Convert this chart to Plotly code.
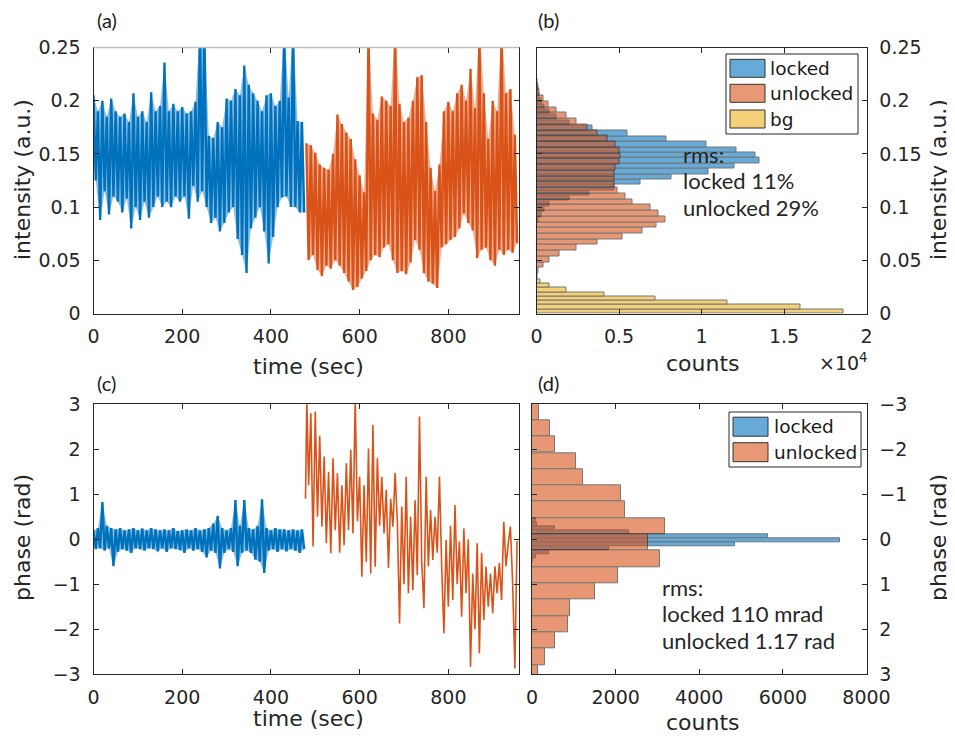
import plotly.graph_objects as go

# ---------------- data ----------------
# (a) intensity time traces (envelope samples, every 5 s,
#     alternating upper / lower excursions)
t_locked = list(range(0, 480, 5))
int_locked = [0.205, 0.125, 0.19, 0.088, 0.2, 0.115, 0.185, 0.093, 0.202, 0.11,
              0.19, 0.105, 0.185, 0.095, 0.188, 0.108, 0.18, 0.08, 0.207, 0.1,
              0.185, 0.088, 0.19, 0.105, 0.18, 0.09, 0.208, 0.1, 0.19, 0.11,
              0.195, 0.1, 0.236, 0.105, 0.19, 0.1, 0.197, 0.11, 0.19, 0.105,
              0.194, 0.11, 0.188, 0.089, 0.19, 0.12, 0.199, 0.105, 0.27, 0.115,
              0.27, 0.1, 0.167, 0.085, 0.165, 0.09, 0.18, 0.077, 0.175, 0.085,
              0.202, 0.095, 0.2, 0.1, 0.211, 0.07, 0.205, 0.055, 0.233, 0.038,
              0.215, 0.08, 0.207, 0.09, 0.2, 0.1, 0.19, 0.077, 0.205, 0.047,
              0.207, 0.072, 0.195, 0.1, 0.2, 0.109, 0.27, 0.11, 0.203, 0.1,
              0.27, 0.1, 0.181, 0.095, 0.18, 0.095]
t_unlocked = list(range(480, 960, 5))
int_unlocked = [0.16, 0.05, 0.158, 0.055, 0.151, 0.041, 0.14, 0.035, 0.137, 0.045,
                0.135, 0.042, 0.15, 0.05, 0.187, 0.045, 0.178, 0.038, 0.17, 0.03,
                0.164, 0.022, 0.145, 0.025, 0.13, 0.033, 0.114, 0.04, 0.27, 0.05,
                0.188, 0.055, 0.182, 0.053, 0.204, 0.062, 0.2, 0.065, 0.195, 0.05,
                0.27, 0.038, 0.197, 0.04, 0.18, 0.037, 0.184, 0.048, 0.2, 0.069,
                0.222, 0.06, 0.224, 0.038, 0.18, 0.03, 0.137, 0.028, 0.115, 0.024,
                0.14, 0.062, 0.19, 0.065, 0.199, 0.069, 0.19, 0.072, 0.207, 0.08,
                0.215, 0.094, 0.2, 0.085, 0.23, 0.078, 0.193, 0.052, 0.27, 0.06,
                0.207, 0.062, 0.164, 0.05, 0.2, 0.045, 0.19, 0.06, 0.27, 0.055,
                0.207, 0.06, 0.211, 0.057, 0.168, 0.066]

# (c) phase time traces
phase_locked = [0.2, -0.22, 0.25, -0.2, 0.83, -0.25, 0.3, -0.2, 0.25, -0.6,
                0.22, -0.28, 0.25, -0.22, 0.2, -0.25, 0.22, -0.3, 0.25, -0.2,
                0.2, -0.22, 0.24, -0.25, 0.2, -0.2, 0.25, -0.22, 0.22, -0.27,
                0.2, -0.2, 0.22, -0.28, 0.2, -0.2, 0.25, -0.22, 0.18, -0.24,
                0.2, -0.3, 0.22, -0.2, 0.2, -0.25, 0.25, -0.22, 0.2, -0.28,
                0.22, -0.4, 0.25, -0.25, 0.35, -0.3, 0.52, -0.65, 0.25, -0.3,
                0.2, -0.22, 0.25, -0.28, 0.87, -0.6, 0.3, -0.3, 0.87, -0.25,
                0.25, -0.3, 0.22, -0.45, 0.3, -0.5, 0.89, -0.75, 0.25, -0.25,
                0.2, -0.22, 0.25, -0.28, 0.22, -0.22, 0.22, -0.27, 0.2, -0.22,
                0.22, -0.25, 0.2, -0.3, 0.22, -0.22]
t_phase_unlocked = [478, 481, 485, 490, 495, 500, 505, 510, 515, 520, 525, 530, 535,
                    540, 545, 550, 555, 560, 565, 570, 575, 580, 585, 590, 595, 600,
                    605, 610, 615, 620, 625, 630, 635, 640, 645, 650, 655, 660, 665,
                    670, 675, 680, 685, 690, 695, 700, 705, 710, 715, 720, 725, 730,
                    735, 740, 745, 750, 755, 760, 765, 770, 775, 780, 785, 790, 795,
                    800, 805, 810, 815, 820, 825, 830, 835, 840, 845, 850, 855, 860,
                    865, 870, 875, 880, 885, 890, 895, 900, 905, 910, 915, 920, 925,
                    930, 935, 940, 945, 950, 955]
phase_unlocked = [0.9, 3.1, 1.2, 2.8, -0.16, 2.84, 0.5, 2.3, 0.28, 1.84, -0.09, 1.5, -0.31,
                  1.8, 0.2, 1.47, -0.3, 1.2, -0.13, 1.69, 0.2, 1.99, 0.13, 3.1, 0.4, 1.39,
                  -0.83, 1.2, -0.5, 2.02, -0.76, 2.54, -0.61, 1.8, 0.3, 1.39, 0.13, 1.1, -0.64,
                  0.9, 0.28, 1.47, 0.4, -1.87, 0.73, -1.0, 1.39, -1.2, 0.5, -1.13, 0.87, -0.8,
                  2.73, -0.5, -1.53, 1.39, -0.6, 0.65, -0.46, 0.5, -0.3, 1.39, -0.6, -2.09,
                  -0.01, -1.5, 0.3, -1.35, 0.76, -1.0, -0.05, -1.72, 0.24, -1.2, 0.0, -2.83,
                  -0.76, -2.0, -0.09, -2.53, -0.3, -1.79, -0.61, -1.5, -0.76, -1.64, -0.6,
                  -1.2, -0.53, -1.35, 0.39, -0.6, -0.1, 0.28, -1.0, -2.87, -0.04]

# (b) intensity histograms (bin centres, counts)
hist_b_locked_bins = [0.0880, 0.0931, 0.0981, 0.1032, 0.1083, 0.1133, 0.1184, 0.1234,
                      0.1285, 0.1336, 0.1386, 0.1437, 0.1487, 0.1538, 0.1589, 0.1639,
                      0.1690, 0.1740, 0.1791, 0.1842, 0.1892, 0.1943, 0.1993, 0.2044,
                      0.2095, 0.2145]
hist_b_locked = [100, 300, 500, 800, 2000, 3200, 4700, 6300, 8200, 10400, 12000, 13500,
                 13300, 12100, 10300, 7900, 5500, 3400, 2000, 1200, 800, 500, 300, 200,
                 100, 50]
hist_b_unlocked_bins = [0.0347, 0.0401, 0.0455, 0.0509, 0.0563, 0.0617, 0.0671, 0.0725,
                        0.0779, 0.0833, 0.0887, 0.0941, 0.0995, 0.1049, 0.1103, 0.1157,
                        0.1211, 0.1265, 0.1319, 0.1373, 0.1427, 0.1481, 0.1535, 0.1589,
                        0.1643, 0.1697, 0.1751, 0.1805, 0.1859, 0.1913, 0.1967, 0.2021,
                        0.2075, 0.2129, 0.2183]
hist_b_unlocked = [40, 150, 400, 800, 1400, 2400, 3700, 5200, 6400, 7300, 7800, 7400,
                   6900, 5800, 5400, 4900, 4700, 4700, 4700, 4800, 5000, 5100, 5000, 4800,
                   4300, 3700, 3100, 2400, 1800, 1200, 700, 400, 200, 100, 50]
hist_b_bg_bins = [0.002, 0.006, 0.010, 0.014, 0.018, 0.022, 0.026, 0.030]
hist_b_bg = [18600, 16000, 11600, 7200, 4100, 1800, 770, 270]

# (d) phase histograms
hist_d_locked_bins = [-0.4135, -0.3245, -0.2355, -0.1465, -0.0575, 0.0312, 0.1202,
                      0.2092, 0.2982, 0.3872, 0.4762]
hist_d_locked = [103, 127, 548, 2310, 5643, 7373, 4865, 1833, 405, 100, 30]
hist_d_unlocked_bins = [-2.829, -2.466, -2.104, -1.741, -1.379, -1.016, -0.654, -0.291,
                        0.071, 0.434, 0.796, 1.159, 1.521, 1.884, 2.246, 2.609, 2.971]
hist_d_unlocked = [170, 421, 548, 1055, 1214, 2127, 2230, 3183, 2770, 3063, 2056, 1516,
                   897, 849, 540, 310, 151]

int_ticks = [0, 0.05, 0.1, 0.15, 0.2, 0.25]
int_ticklabels = ['0', '0.05', '0.1', '0.15', '0.2', '0.25']
time_ticks = [0, 200, 400, 600, 800]
count_b_ticks = [0, 5000, 10000, 15000, 20000]
count_b_ticklabels = ['0', '0.5', '1', '1.5', '2']
count_d_ticks = [0, 2000, 4000, 6000, 8000]
phase_ticks = [-3, -2, -1, 0, 1, 2, 3]

# ---------------- styling ----------------
# the page adds an 8 px body margin, so the figure is drawn 8 px smaller and
# every reference pixel position is shifted by that offset
OFF = 8
W, H = 955 - OFF, 740 - OFF
def PX(x): return (x - OFF) / W
def PY(y): return 1 - (y - OFF) / H

BLUE = '#0072BD'
ORANGE = '#D95319'
YELLOW = '#EDB120'
EDGE = '#262626'
TICKFONT = dict(family='DejaVu Sans', size=19, color='#262626')
TITLEFONT = dict(family='DejaVu Sans', size=22, color='#262626')
NOTEFONT = dict(family='Lato', size=22, color='#262626')
LABELFONT = dict(family='Lato', size=20, color='#1a1a1a')

fig = go.Figure()


def band(t, v, color, tint, xa, ya):
    """dense trace: light tint between upper and lower excursions + the trace itself"""
    fig.add_trace(go.Scatter(x=t[0::2], y=v[0::2], mode='lines',
                             line=dict(width=0, color=color), xaxis=xa, yaxis=ya,
                             hoverinfo='skip'))
    fig.add_trace(go.Scatter(x=t[1::2], y=v[1::2], mode='lines',
                             line=dict(width=0, color=color), fill='tonexty',
                             fillcolor=tint, xaxis=xa, yaxis=ya, hoverinfo='skip'))
    fig.add_trace(go.Scatter(x=t, y=v, mode='lines', line=dict(color=color, width=2.4),
                             xaxis=xa, yaxis=ya))


BLUE_TINT = 'rgba(0,114,189,0.45)'
ORANGE_TINT = 'rgba(217,83,25,0.45)'

# (a)
band(t_locked, int_locked, BLUE, BLUE_TINT, 'x', 'y')
band(t_unlocked, int_unlocked, ORANGE, ORANGE_TINT, 'x', 'y')
# (b)
barline = dict(color='#1a1a1a', width=1)
fig.add_trace(go.Bar(y=hist_b_locked_bins, x=hist_b_locked, orientation='h', width=0.00506,
                     marker=dict(color=BLUE, line=barline), opacity=0.6, xaxis='x2', yaxis='y2'))
fig.add_trace(go.Bar(y=hist_b_unlocked_bins, x=hist_b_unlocked, orientation='h', width=0.0054,
                     marker=dict(color=ORANGE, line=barline), opacity=0.6, xaxis='x2', yaxis='y2'))
fig.add_trace(go.Bar(y=hist_b_bg_bins, x=hist_b_bg, orientation='h', width=0.004,
                     marker=dict(color=YELLOW, line=barline), opacity=0.6, xaxis='x2', yaxis='y2'))
# (c)
band(t_locked, phase_locked, BLUE, BLUE_TINT, 'x3', 'y3')
fig.add_trace(go.Scatter(x=t_phase_unlocked, y=phase_unlocked, mode='lines',
                         line=dict(color=ORANGE, width=1.6), xaxis='x3', yaxis='y3'))
# (d)
fig.add_trace(go.Bar(y=hist_d_locked_bins, x=hist_d_locked, orientation='h', width=0.089,
                     marker=dict(color=BLUE, line=barline), opacity=0.6, xaxis='x4', yaxis='y4'))
fig.add_trace(go.Bar(y=hist_d_unlocked_bins, x=hist_d_unlocked, orientation='h', width=0.3625,
                     marker=dict(color=ORANGE, line=barline), opacity=0.6, xaxis='x4', yaxis='y4'))

ax = dict(showline=True, linecolor=EDGE, linewidth=1, mirror='ticks', ticks='inside',
          ticklen=5, tickcolor=EDGE, tickfont=TICKFONT, showgrid=False, zeroline=False,
          fixedrange=True, automargin=False)

dom_a_x = [PX(93.5), PX(519.3)]
dom_b_x = [PX(536.5), PX(866.5)]
dom_d_x = [PX(532), PX(866.5)]
dom_top_y = [PY(313.5), PY(47.5)]
dom_bot_y = [PY(674.3), PY(404.3)]

fig.update_layout(
    width=W, height=H, margin=dict(l=0, r=0, t=0, b=0, autoexpand=False),
    paper_bgcolor='white', plot_bgcolor='white', showlegend=False,
    barmode='overlay', bargap=0,
    xaxis=dict(ax, domain=dom_a_x, range=[0, 960], tickvals=time_ticks, anchor='y',
               ticklabelstandoff=6),
    yaxis=dict(ax, domain=dom_top_y, range=[0, 0.25], tickvals=int_ticks,
               ticktext=int_ticklabels, anchor='x', ticklabelstandoff=8),
    xaxis2=dict(ax, domain=dom_b_x, range=[0, 20000], tickvals=count_b_ticks,
                ticktext=count_b_ticklabels, anchor='y2', ticklabelstandoff=6),
    yaxis2=dict(ax, domain=dom_top_y, range=[0, 0.25], tickvals=int_ticks,
                ticktext=int_ticklabels, anchor='x2', side='right', ticklabelstandoff=8),
    xaxis3=dict(ax, domain=dom_a_x, range=[0, 960], tickvals=time_ticks, anchor='y3',
                ticklabelstandoff=6),
    yaxis3=dict(ax, domain=dom_bot_y, range=[-3, 3], tickvals=phase_ticks, anchor='x3',
                ticklabelstandoff=8),
    xaxis4=dict(ax, domain=dom_d_x, range=[0, 8000], tickvals=count_d_ticks, anchor='y4',
                ticklabelstandoff=6),
    yaxis4=dict(ax, domain=dom_bot_y, range=[3, -3], tickvals=phase_ticks, anchor='x4',
                side='right', ticklabelstandoff=8),
)

ann = []
def text(x, y, s, font, xanchor='center', angle=0):
    ann.append(dict(x=PX(x), y=PY(y), xref='paper', yref='paper', text=s, showarrow=False,
                    font=font, xanchor=xanchor, yanchor='middle', textangle=angle))

# panel labels
text(107, 20, '(a)', LABELFONT)
text(548, 20, '(b)', LABELFONT)
text(106, 383, '(c)', LABELFONT)
text(548, 383, '(d)', LABELFONT)
# axis titles
text(308, 366, 'time (sec)', TITLEFONT)
text(308, 718, 'time (sec)', TITLEFONT)
text(703, 363, 'counts', TITLEFONT)
text(703, 722, 'counts', TITLEFONT)
text(22, 180, 'intensity (a.u.)', TITLEFONT, angle=-90)
text(938, 180, 'intensity (a.u.)', TITLEFONT, angle=-90)
text(22, 538, 'phase (rad)', TITLEFONT, angle=-90)
text(938, 538, 'phase (rad)', TITLEFONT, angle=-90)
text(870, 362, '×10<sup>4</sup>', TICKFONT, xanchor='right')
# rms notes
for i, s in enumerate(['rms:', 'locked 11%', 'unlocked 29%']):
    text(681, 154 + 26.5 * i, s, NOTEFONT, xanchor='left')
for i, s in enumerate(['rms:', 'locked 110 mrad', 'unlocked 1.17 rad']):
    text(660, 587 + 26.5 * i, s, NOTEFONT, xanchor='left')

# manual legends
LEGFONT = dict(family='DejaVu Sans', size=18.5, color='#1a1a1a')
shapes = []
def rect(x0, y0, x1, y1, fill, line='#262626', lw=1):
    shapes.append(dict(type='rect', xref='paper', yref='paper', x0=PX(x0), x1=PX(x1),
                       y0=PY(y1), y1=PY(y0), fillcolor=fill, line=dict(color=line, width=lw)))

rect(726, 54, 858, 134, 'white')
leg_b = [('locked', '#66AAD7', 68.3), ('unlocked', '#E89875', 93.3), ('bg', '#F4D079', 119)]
for name, col, yc in leg_b:
    rect(730, yc - 9, 765, yc + 9, col, line='#333333')
    text(768, yc, name, LEGFONT, xanchor='left')

rect(729, 412, 861, 467, 'white')
leg_d = [('locked', '#66AAD7', 426.7), ('unlocked', '#E89875', 452.2)]
for name, col, yc in leg_d:
    rect(733, yc - 9.5, 768, yc + 9.5, col, line='#333333')
    text(772, yc, name, LEGFONT, xanchor='left')

# light top frame of panel (a)
shapes.append(dict(type='line', xref='paper', yref='paper', x0=PX(93.5), x1=PX(519.3),
                   y0=PY(47.5), y1=PY(47.5), line=dict(color='#C0C0C0', width=1.5)))

fig.update_layout(annotations=ann, shapes=shapes)
fig.write_html('out.html')
